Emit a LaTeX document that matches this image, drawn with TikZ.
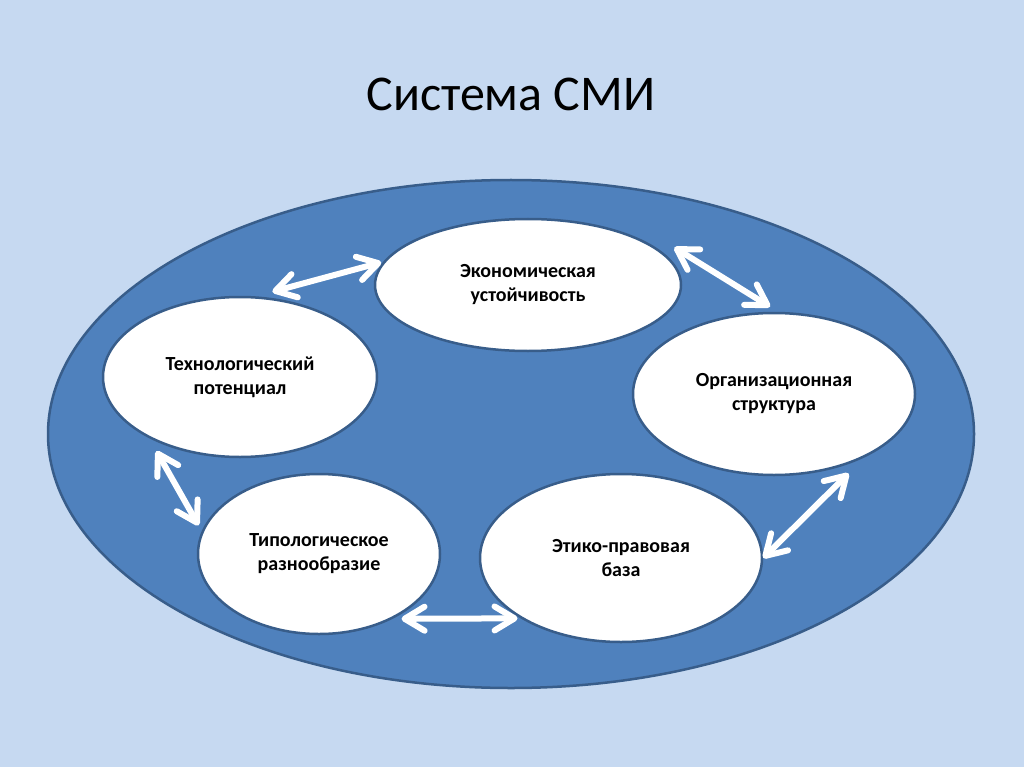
\documentclass[tikz,border=0pt]{standalone}
\usepackage{fontspec}
\setmainfont{Carlito}
\usepackage{tikz}
\usetikzlibrary{arrows.meta,shapes.geometric,positioning,calc}
\definecolor{slidebg}{RGB}{198,217,241}
\definecolor{ringblue}{RGB}{79,129,189}
\definecolor{edgeblue}{RGB}{56,93,138}
\tikzset{
    factor/.style={draw=edgeblue, line width=2.5pt, fill=white, ellipse, inner sep=0pt, align=center,
                   font=\fontsize{20}{24}\selectfont\bfseries},
    link/.style={{Straight Barb[length=20pt, width=24pt, round]}-{Straight Barb[length=20pt, width=24pt, round]},
                 line width=6pt, white},
    heading/.style={font=\fontsize{50}{58}\selectfont}
}

\begin{document}
\begin{tikzpicture}[x=1pt, y=-1pt]
    \fill[slidebg] (0,0) rectangle (1024,767);
    \node[heading] (title) at (511,94) {Система СМИ};
    \draw[edgeblue, line width=2.5pt, fill=ringblue] (511,434) ellipse [x radius=463, y radius=254];

    \node[factor, minimum width=306pt, minimum height=132pt] (econ) at (528,285) {Экономическая\\устойчивость};
    \node[factor, minimum width=274pt, minimum height=160pt] (tech) at (240,377) {Технологический\\потенциал};
    \node[factor, minimum width=282pt, minimum height=162pt] (org) at (774,394) {Организационная\\структура};
    \node[factor, minimum width=242pt, minimum height=160pt] (typo) at (319,554) {Типологическое\\разнообразие};
    \node[factor, minimum width=282pt, minimum height=168pt] (ethic) at (621,558) {Этико-правовая\\база};

    \draw[link] ([shift={(2,-6)}]tech.69) -- ([shift={(0,-2)}]econ.172);
    \draw[link] ([shift={(10,-6)}]econ.13) -- ([shift={(-4,-5)}]org.north);
    \draw[link] ([shift={(7,7)}]org.313) -- (ethic.east);
    \draw[link] ([shift={(5,2)}]typo.321) -- ([shift={(-3,0)}]ethic.211);
    \draw[link] ([shift={(-8,6)}]tech.222) -- ([shift={(-5,-2)}]typo.167);
\end{tikzpicture}
\end{document}
